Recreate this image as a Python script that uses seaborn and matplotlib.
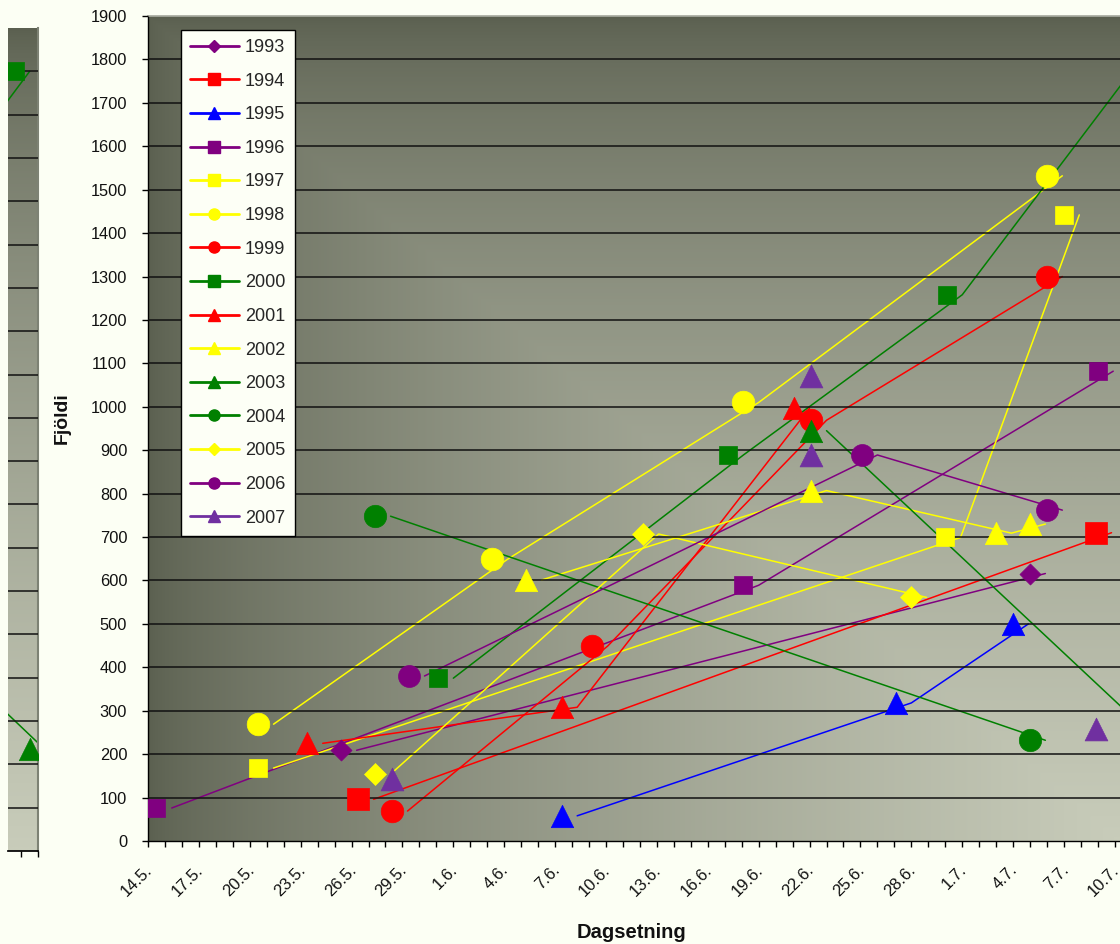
import numpy as np
import matplotlib
matplotlib.use("Agg")
import matplotlib.pyplot as plt
import seaborn as sns
from matplotlib.lines import Line2D
from matplotlib.colors import LinearSegmentedColormap
from matplotlib.transforms import ScaledTranslation

# dagar frá 14. maí (0 = 14.5.), fjöldi
d1993 = [11.4, 52.0]
n1993 = [209, 616]
d1994 = [12.4, 55.9]
n1994 = [96, 710]
d1995 = [24.4, 44.1, 51.0]
n1995 = [58, 318, 500]
d1996 = [0.5, 35.1, 56.0]
n1996 = [76, 589, 1082]
d1997 = [6.5, 47.0, 54.0]
n1997 = [168, 699, 1442]
d1998 = [6.5, 20.3, 35.1, 53.0]
n1998 = [269, 649, 1010, 1532]
d1999 = [14.4, 26.2, 39.1, 53.0]
n1999 = [69, 449, 969, 1300]
d2000 = [17.1, 34.2, 47.1, 57.6]
n2000 = [375, 889, 1258, 1800]
d2001 = [9.4, 24.4, 38.1]
n2001 = [225, 308, 997]
d2002 = [22.3, 39.1, 50.0, 52.0]
n2002 = [601, 807, 709, 730]
d2003 = [39.1, 58.5]
n2003 = [945, 235]
d2004 = [13.4, 52.0]
n2004 = [748, 232]
d2005 = [13.4, 29.2, 45.0]
n2005 = [154, 707, 561]
d2006 = [15.4, 42.1, 53.0]
n2006 = [380, 889, 762]
d2007 = [14.4, 39.1, 39.1, 55.9]
n2007 = [142, 1070, 890, 258]

years = ["1993", "1994", "1995", "1996", "1997", "1998", "1999", "2000",
         "2001", "2002", "2003", "2004", "2005", "2006", "2007"]
days = [d1993, d1994, d1995, d1996, d1997, d1998, d1999, d2000,
        d2001, d2002, d2003, d2004, d2005, d2006, d2007]
counts = [n1993, n1994, n1995, n1996, n1997, n1998, n1999, n2000,
          n2001, n2002, n2003, n2004, n2005, n2006, n2007]

tick_labels = ["14.5.", "17.5.", "20.5.", "23.5.", "26.5.", "29.5.", "1.6.",
               "4.6.", "7.6.", "10.6.", "13.6.", "16.6.", "19.6.", "22.6.",
               "25.6.", "28.6.", "1.7.", "4.7.", "7.7.", "10.7."]

# stílar
colors = ["#800080", "#FF0000", "#0000FF", "#800080", "#FFFF00", "#FFFF00",
          "#FF0000", "#008000", "#FF0000", "#FFFF00", "#008000", "#008000",
          "#FFFF00", "#800080", "#7030A0"]
markers = ["D", "s", "^", "s", "s", "o", "o", "s", "^", "^", "^", "o", "D", "o", "^"]
sizes = [115, 270, 260, 150, 150, 265, 265, 150, 260, 260, 260, 260, 125, 250, 270]
leg_ms = [6, 8, 8, 8, 8, 8, 8, 8, 8, 8, 8, 8, 6, 8, 8]
shift = 0.9  # línan er teiknuð aðeins til hægri við punktinn, eins og í Excel

sns.set_theme(style="ticks")
plt.rcParams["font.family"] = ["Liberation Sans", "DejaVu Sans"]

fig = plt.figure(figsize=(11.2, 9.44), dpi=100, facecolor="#fcfff4")
ax = fig.add_axes([148 / 1120, (944 - 841) / 944, (1120 - 148) / 1120, (841 - 16) / 944])
strip = fig.add_axes([8 / 1120, (944 - 851) / 944, 30 / 1120, (851 - 28) / 944])

xmax = 57.3
slo, shi = 57.2, 58.97
cmap = LinearSegmentedColormap.from_list("bg", ["#5b6050", "#c8ccba"])
gx, gy = np.meshgrid(np.linspace(0, 1, 400), np.linspace(0, 1, 300))
ax.imshow(np.minimum(gx, gy) ** 0.7, extent=[0, xmax, 0, 1900], origin="upper",
          aspect="auto", cmap=cmap, vmin=0, vmax=1, zorder=0)
strip.imshow(gy[:, :2] ** 0.7, extent=[slo, shi, 0, 1900], origin="upper",
             aspect="auto", cmap=cmap, vmin=0, vmax=1, zorder=0)


def draw(a, lo, hi):
    for yr, d, n, c, m, s in zip(years, days, counts, colors, markers, sizes):
        d = np.array(d)
        n = np.array(n)
        if yr != "2007":
            sns.lineplot(x=d + shift, y=n, color=c, lw=1.1, estimator=None,
                         sort=False, ax=a, zorder=2)
        keep = (d >= lo) & (d <= hi)
        if keep.any():
            sns.scatterplot(x=d[keep], y=n[keep], marker=m, s=s, color=c,
                            edgecolor=c, linewidth=0.5, ax=a, zorder=3,
                            legend=False)


draw(ax, 0, xmax)
draw(strip, slo, shi)

for a in (ax, strip):
    a.set_ylim(0, 1900)
    a.set_yticks(range(0, 1901, 100))
    a.yaxis.grid(True, color="#111111", lw=1.1)
    a.set_axisbelow(False)
    a.set_xlabel("")
    a.set_ylabel("")
    a.get_ygridlines()[-1].set_visible(False)
    a.get_ygridlines()[0].set_visible(False)
    for gl in a.get_ygridlines():
        gl.set_zorder(1)

ax.set_xlim(0, xmax)
ax.set_xticks(range(0, 58, 3))
ax.set_xticklabels(tick_labels)
ax.set_xticks(range(0, 58), minor=True)
ax.tick_params(axis="both", which="both", direction="out", length=4, width=1,
               color="black", labelsize=11.8, labelcolor="#111111")
ax.tick_params(axis="x", labelsize=12, pad=15)
ax.tick_params(axis="y", pad=11)
for sp in ("left", "bottom"):
    ax.spines[sp].set_color("black")
    ax.spines[sp].set_linewidth(1.0)
ax.spines["right"].set_visible(False)
ax.spines["top"].set_color("#a8aca0")

off = ScaledTranslation(2 / 100, 0, fig.dpi_scale_trans)
for lab in ax.get_xticklabels():
    lab.set_rotation(45)
    lab.set_ha("right")
    lab.set_va("center")
    lab.set_rotation_mode("anchor")
    lab.set_transform(lab.get_transform() + off)

strip.set_xlim(slo, shi)
strip.set_xticks([58, 59])
strip.set_xticklabels([])
strip.set_yticks(range(0, 1901, 100))
strip.tick_params(axis="x", direction="out", length=4, width=1, color="black")
strip.tick_params(axis="y", length=0, labelleft=False)
strip.spines["left"].set_visible(False)
strip.spines["top"].set_visible(False)
strip.spines["right"].set_color("#7d8274")
strip.spines["right"].set_linewidth(1.5)
strip.spines["bottom"].set_color("black")

handles = [Line2D([], [], color=c, marker=m, markersize=ms, lw=2,
                  markeredgecolor=c)
           for c, m, ms in zip(colors, markers, leg_ms)]
leg = ax.legend(handles, years, loc="upper left",
                bbox_to_anchor=(181 / 1120, 1 - 30 / 944),
                bbox_transform=fig.transFigure, frameon=True, fancybox=False,
                edgecolor="black", facecolor="#fdfff6", framealpha=1,
                fontsize=13, labelspacing=0.92, handlelength=2.7,
                handletextpad=0.35, borderpad=0.5, borderaxespad=0)
leg.get_frame().set_linewidth(1.0)
leg.set_zorder(5)

fig.text(62 / 1120, 1 - 418 / 944, "Fjöldi", rotation=90, fontsize=14,
         fontweight="bold", ha="center", va="center", color="#111111")
fig.text(632 / 1120, 1 - 932 / 944, "Dagsetning", fontsize=14.5,
         fontweight="bold", ha="center", va="center", color="#111111")

fig.savefig("out.png", dpi=100, facecolor=fig.get_facecolor())
